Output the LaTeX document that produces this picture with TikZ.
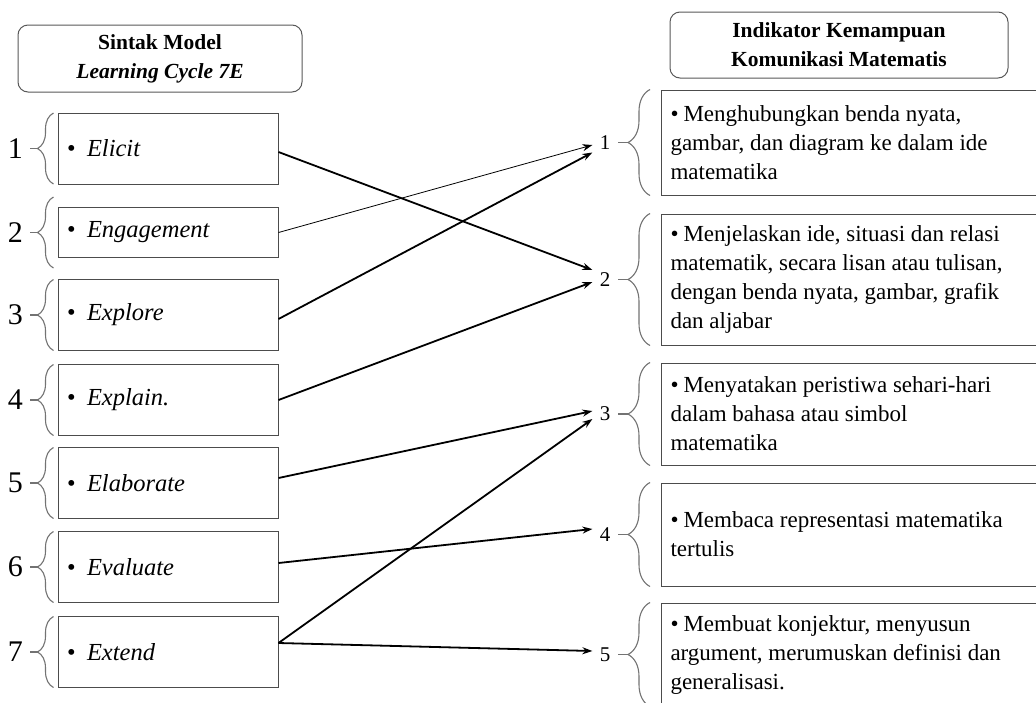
\documentclass[tikz,border=0pt]{standalone}
\usepackage{fontspec}
\setmainfont{Liberation Serif}
\usetikzlibrary{arrows.meta, positioning, calc, decorations.pathreplacing}

\begin{document}
\begin{tikzpicture}[x=1pt, y=-1pt,
    judul/.style={draw=black!65, line width=1pt, rounded corners=10pt, align=center, font=\fontsize{21.5}{29}\selectfont\bfseries},
    sintak/.style={draw=black!70, line width=1pt, text width=202pt, inner xsep=9pt, align=flush left, minimum height=71pt, font=\fontsize{24.5}{29}\selectfont},
    indikator/.style={draw=black!70, line width=1pt, anchor=west, text width=380pt, inner xsep=9pt, align=flush left, font=\fontsize{23}{29}\selectfont},
    kurung/.style={draw=black!55, line width=1.1pt, decorate, decoration={brace, amplitude=#1}},
    garis/.style={draw=black!55, line width=1.1pt},
    nomorkiri/.style={left, inner sep=6pt, font=\fontsize{30}{30}\selectfont},
    nomorkanan/.style={left, inner sep=7pt, font=\fontsize{21}{21}\selectfont},
    panah/.style={-{Stealth[length=10pt, width=7pt]}, line width=1.8pt},
    panahtipis/.style={panah, line width=0.8pt}]
    \useasboundingbox (0,0) rectangle (1036,702);
    \clip (0,0) rectangle (1036,702);
    \fill[white] (0,0) rectangle (1036,702);

    % Judul
    \node[judul, minimum width=284pt, minimum height=67pt] (judulkiri) at (160,58.5) {Sintak Model\\\textit{Learning Cycle 7E}};
    \node[judul, minimum width=338pt, minimum height=66pt] (judulkanan) at (839,45) {Indikator Kemampuan\\Komunikasi Matematis};

    % Sintak model
    \node[sintak] (e1) at (168,148.5) {\makebox[20pt][l]{\textbullet}\textit{Elicit}};
    \node[sintak, minimum height=50pt] (e2) at (168,232.5) {\makebox[20pt][l]{\textbullet}\textit{Engagement}};
    \node[sintak] (e3) at (168,315) {\makebox[20pt][l]{\textbullet}\textit{Explore}};
    \node[sintak] (e4) at (168,400) {\makebox[20pt][l]{\textbullet}\textit{Explain.}};
    \node[sintak] (e5) at (168,483) {\makebox[20pt][l]{\textbullet}\textit{Elaborate}};
    \node[sintak] (e6) at (168,567) {\makebox[20pt][l]{\textbullet}\textit{Evaluate}};
    \node[sintak] (e7) at (168,652) {\makebox[20pt][l]{\textbullet}\textit{Extend}};

    \foreach \i in {1,...,7} {
        \draw[kurung=16pt] ($(e\i.west)+(-4,35.5)$) -- ($(e\i.west)+(-4,-35.5)$);
        \draw[garis] ($(e\i.west)+(-20,0)$) -- ++(-8,0) node[nomorkiri] (ln\i) {\i};
    }

    % Indikator
    \node[indikator, minimum height=105pt] (i1) at (661,142.5) {\makebox[13pt][l]{\textbullet}Menghubungkan benda nyata,\\gambar, dan diagram ke dalam ide\\matematika};
    \node[indikator, minimum height=131pt] (i2) at (661,279.5) {\makebox[13pt][l]{\textbullet}Menjelaskan ide, situasi dan relasi\\matematik, secara lisan atau tulisan,\\dengan benda nyata, gambar, grafik\\dan aljabar};
    \node[indikator, minimum height=102pt] (i3) at (661,414) {\makebox[13pt][l]{\textbullet}Menyatakan peristiwa sehari-hari\\dalam bahasa atau simbol\\matematika};
    \node[indikator, minimum height=103pt] (i4) at (661,534.5) {\makebox[13pt][l]{\textbullet}Membaca representasi matematika\\tertulis};
    \node[indikator, minimum height=103pt] (i5) at (661,654.5) {\makebox[13pt][l]{\textbullet}Membuat konjektur, menyusun\\argument, merumuskan definisi dan\\generalisasi.};

    \foreach \i in {1,...,5} {
        \draw[kurung=22pt] ([xshift=-11pt]i\i.south west) -- ([xshift=-11pt]i\i.north west);
        \draw[garis] ([xshift=-33pt]i\i.west) -- ++(-10,0) node[nomorkanan] (r\i) {\i};
    }

    % Hubungan
    \draw[panah] ([yshift=-3.5pt]e1.east) -- ([yshift=9.5pt]r2.west);
    \draw[panahtipis] (e2.east) -- ([yshift=-2.5pt]r1.west);
    \draw[panah] ([yshift=-4pt]e3.east) -- ([yshift=-10pt]r1.west);
    \draw[panah] (e4.east) -- ([yshift=-2.5pt]r2.west);
    \draw[panah] ([yshift=5pt]e5.east) -- ([yshift=3pt]r3.west);
    \draw[panah] ([yshift=4pt]e6.east) -- ([yshift=5.5pt]r4.west);
    \draw[panah] ([yshift=9pt]e7.east) -- ([yshift=-5pt]r3.west);
    \draw[panah] ([yshift=9pt]e7.east) -- ([yshift=3.5pt]r5.west);
\end{tikzpicture}
\end{document}
